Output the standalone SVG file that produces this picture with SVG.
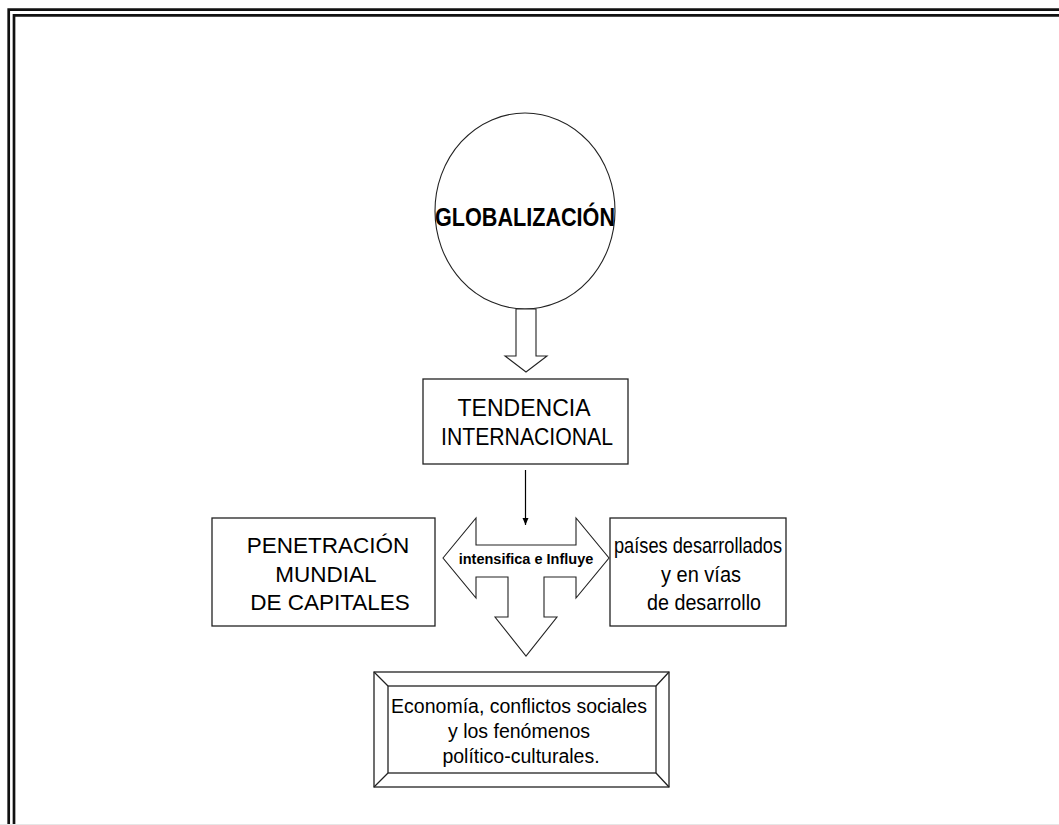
<svg xmlns="http://www.w3.org/2000/svg" width="1059" height="825" viewBox="0 0 1059 825">
<style>
.frame{fill:none;stroke:#111;stroke-width:2.7}
.box{fill:#fff;stroke:#222;stroke-width:1.3}
.shape{fill:#fff;stroke:#222;stroke-width:1.1}
.t{font-family:"Liberation Sans",Arial,sans-serif;fill:#000;text-anchor:middle}
</style>
<defs>
<marker id="ah" markerWidth="8" markerHeight="8" refX="7" refY="4" orient="auto" markerUnits="userSpaceOnUse">
<path d="M0,1 L7,4 L0,7 Z" fill="#000"/>
</marker>
</defs>
<rect width="1059" height="825" fill="#fff"/>
<g id="frame">
<path class="frame" d="M8.7,825 V9.7 H1059"/>
<path class="frame" d="M14,825 V15.3 H1059"/>
<line x1="0" y1="824.5" x2="1059" y2="824.5" stroke="#e6e6e6" stroke-width="1"/>
</g>
<g id="globalizacion">
<ellipse class="shape" cx="525" cy="211" rx="90" ry="98"/>
<text class="t" x="525" y="226" font-size="25" font-weight="bold" textLength="180" lengthAdjust="spacingAndGlyphs">GLOBALIZACIÓN</text>
</g>
<g id="tendencia">
<rect class="box" x="423" y="379" width="205" height="85"/>
<text class="t" x="524" y="416" font-size="23" textLength="133" lengthAdjust="spacingAndGlyphs">TENDENCIA</text>
<text class="t" x="527" y="445" font-size="23" textLength="172" lengthAdjust="spacingAndGlyphs">INTERNACIONAL</text>
</g>
<g id="penetracion">
<rect class="box" x="212" y="518" width="223" height="108"/>
<text class="t" x="328" y="553" font-size="22.5">PENETRACIÓN</text>
<text class="t" x="326" y="582" font-size="22.5">MUNDIAL</text>
<text class="t" x="330" y="610" font-size="22.5">DE CAPITALES</text>
</g>
<g id="paises">
<rect class="box" x="610" y="518" width="176" height="108"/>
<text class="t" x="698" y="553" font-size="21.5" textLength="168" lengthAdjust="spacingAndGlyphs">países desarrollados</text>
<text class="t" x="701" y="582" font-size="21.5" textLength="80" lengthAdjust="spacingAndGlyphs">y en vías</text>
<text class="t" x="704" y="610" font-size="21.5" textLength="114" lengthAdjust="spacingAndGlyphs">de desarrollo</text>
</g>
<g id="intensifica">
<polygon class="shape" points="443,558 476,518 476,545 576,545 576,518 609,558 576,598 576,577 544,577 544,617 557,617 526,656 495,617 508,617 508,577 476,577 476,598"/>
<text class="t" x="526" y="564" font-size="14.5" font-weight="bold">intensifica e Influye</text>
</g>
<g id="economia">
<rect class="box" x="374" y="672" width="295" height="115" stroke-width="1.6"/>
<rect class="box" x="388" y="686" width="268" height="87" stroke-width="1.6"/>
<path d="M374,672 L388,686 M669,672 L656,686 M374,787 L388,773 M669,787 L656,773" stroke="#222" stroke-width="1.3" fill="none"/>
<text class="t" x="519" y="713" font-size="19.5">Economía, conflictos sociales</text>
<text class="t" x="519" y="738" font-size="19.5">y los fenómenos</text>
<text class="t" x="521" y="763" font-size="19.5">político-culturales.</text>
</g>
<g id="connectors">
<polygon class="shape" points="516,309 536,309 536,356 547,356 526,372 505,356 516,356"/>
<line x1="525.5" y1="470" x2="525.5" y2="525" stroke="#000" stroke-width="1.2" marker-end="url(#ah)"/>
</g>
</svg>
